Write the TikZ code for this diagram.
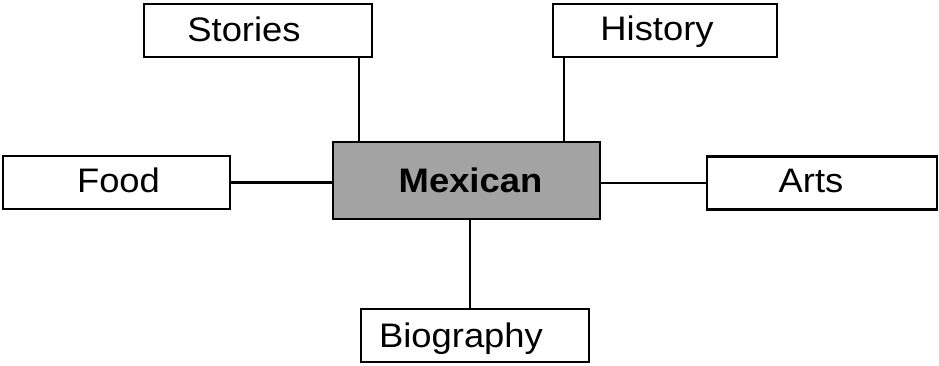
\documentclass[tikz,border=0pt]{standalone}
\usepackage{fontspec}
\usepackage{graphicx}
\setmainfont{Liberation Sans}
\tikzset{
  box/.style={draw=black, line width=2.6pt, fill=white, minimum height=53pt, inner sep=0pt},
  hub/.style={draw=black, line width=2.6pt, fill=black!36, minimum height=77pt, minimum width=267pt, inner sep=0pt},
  lbl/.style={font=\fontsize{34}{36}\selectfont, inner sep=0pt, anchor=base},
  link/.style={line width=2.4pt}
}
\newcommand{\widetxt}[1]{\scalebox{1.07}[1]{#1}}
\begin{document}
\begin{tikzpicture}[x=1pt,y=-1pt]
\useasboundingbox (0,0) rectangle (939,365);
\node[hub] (Mexican) at (466.5,180.5) {};
\node[lbl, font=\fontsize{34}{36}\selectfont\bfseries] (tMexican) at (470.5,192) {\widetxt{Mexican}};
\node[box, minimum width=228pt] (Stories) at (258,30.5) {};
\node[lbl] (tStories) at (244,41) {\widetxt{Stories}};
\node[box, minimum width=224pt] (History) at (665,30.5) {};
\node[lbl] (tHistory) at (657,40) {\widetxt{History}};
\node[box, minimum width=227pt] (Food) at (116.5,182.5) {};
\node[lbl] (tFood) at (118.5,192) {\widetxt{Food}};
\node[box, minimum width=230pt] (Arts) at (822,183) {};
\node[lbl] (tArts) at (811,192) {\widetxt{Arts}};
\node[box, minimum width=228pt] (Biography) at (475,335.5) {};
\node[lbl] (tBiography) at (461,347) {\widetxt{Biography}};
\draw[link] (Stories.south -| 359,0) -- (Mexican.north -| 359,0);
\draw[link] (History.south -| 564,0) -- (Mexican.north -| 564,0);
\draw[link] (Food.east) -- (Food.east -| Mexican.west);
\draw[link] (Mexican.east |- Arts.west) -- (Arts.west);
\draw[link] (Mexican.south -| 470,0) -- (Biography.north -| 470,0);
\end{tikzpicture}
\end{document}
